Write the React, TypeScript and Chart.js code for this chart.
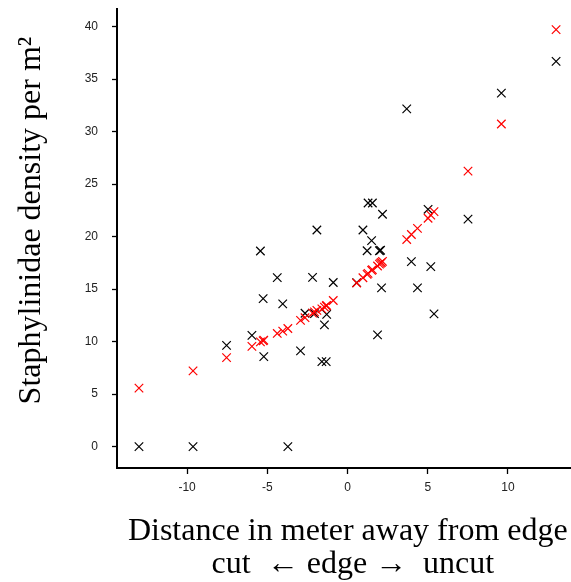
import React, { useEffect, useRef } from "react";
import { Chart, registerables } from "chart.js";

Chart.register(...registerables);

// Distance from the edge (m): negative = cut side, positive = uncut side
const distances = [
  -13.0, -9.63, -7.54, -5.96, -5.43, -5.26, -5.22, -4.38, -4.04, -3.72,
  -2.93, -2.65, -2.18, -2.06, -1.91, -1.6, -1.44, -1.33, -1.3, -0.89,
  0.57, 0.96, 1.22, 1.28, 1.5, 1.55, 1.87, 1.99, 2.06, 2.12,
  2.18, 3.69, 3.98, 4.36, 5.02, 5.19, 5.39, 7.51, 9.59, 13.0,
];

// Observed Staphylinidae density (black crosses)
const observedDensity = [
  0, 0, 9.64, 10.6, 18.63, 14.1, 8.57, 16.1, 13.6, 0,
  9.12, 12.7, 16.12, 12.66, 20.63, 8.1, 11.6, 8.1, 12.6, 15.63,
  15.62, 20.63, 18.65, 23.2, 19.62, 23.2, 10.64, 18.65, 18.7, 15.12,
  22.13, 32.16, 17.62, 15.12, 22.6, 17.14, 12.64, 21.66, 33.66, 36.68,
];

// Fitted density (red crosses)
const fittedDensity = [
  5.58, 7.22, 8.48, 9.55, 9.98, 10.08, 10.14, 10.78, 11.0, 11.25,
  12.02, 12.28, 12.72, 12.84, 12.98, 13.12, 13.28, 13.4, 13.44, 13.92,
  15.58, 16.08, 16.4, 16.5, 16.78, 16.85, 17.2, 17.38, 17.48, 17.55,
  17.64, 19.72, 20.2, 20.78, 21.75, 22.05, 22.38, 26.23, 30.72, 39.7,
];

const xTickValues = [-10, -5, 0, 5, 10];
const yTickValues = [0, 5, 10, 15, 20, 25, 30, 35, 40];

const X_MIN = -14.37;
const X_MAX = 13.93;
const Y_MIN = -2.03;
const Y_MAX = 41.67;

const X_TITLE = ["Distance in meter away from edge", "cut  \u2190 edge \u2192  uncut"];
const Y_TITLE = "Staphylinidae density per m\u00B2";

const TITLE_FONT = '32px "Liberation Serif", "Times New Roman", Times, serif';
const TICK_FONT = { family: '"Liberation Sans", Arial, Helvetica, sans-serif', size: 12 };

const titlePlugin = {
  id: "axisTitles",
  afterDraw(chart: any) {
    const { ctx, chartArea } = chart;
    ctx.save();
    ctx.fillStyle = "#000";
    ctx.font = TITLE_FONT;
    ctx.textAlign = "center";
    ctx.textBaseline = "alphabetic";
    ctx.fillText(X_TITLE[0], chartArea.left + 230.8, chartArea.bottom + 72);
    ctx.fillText(X_TITLE[1], chartArea.left + 235.9, chartArea.bottom + 105);
    ctx.translate(chartArea.left - 77, chartArea.top + 211.5);
    ctx.rotate(-Math.PI / 2);
    ctx.fillText(Y_TITLE, 0, 0);
    ctx.restore();
  },
};

export default function App() {
  const canvasRef = useRef<HTMLCanvasElement | null>(null);

  useEffect(() => {
    if (!canvasRef.current) return;
    const fittedPoints = distances.map((x, i) => ({ x, y: fittedDensity[i] }));
    const observedPoints = distances.map((x, i) => ({ x, y: observedDensity[i] }));

    const axisCommon = {
      type: "linear" as const,
      grid: {
        display: true,
        drawOnChartArea: false,
        drawTicks: true,
        tickColor: "#000",
        tickWidth: 1.3,
      },
      border: { display: true, color: "#000", width: 2 },
    };

    const chart = new Chart(canvasRef.current, {
      type: "scatter",
      data: {
        datasets: [
          {
            label: "Fitted",
            data: fittedPoints,
            pointStyle: "crossRot",
            pointRadius: 6,
            pointHoverRadius: 6,
            borderColor: "#ff0000",
            backgroundColor: "#ff0000",
            borderWidth: 1.2,
          },
          {
            label: "Observed",
            data: observedPoints,
            pointStyle: "crossRot",
            pointRadius: 6,
            pointHoverRadius: 6,
            borderColor: "#000000",
            backgroundColor: "#000000",
            borderWidth: 1.2,
          },
        ],
      },
      options: {
        animation: false,
        responsive: false,
        layout: { autoPadding: false, padding: { top: 9, left: 0, right: 0, bottom: 0 } },
        plugins: {
          legend: { display: false },
          tooltip: { enabled: false },
        },
        scales: {
          x: {
            ...axisCommon,
            min: X_MIN,
            max: X_MAX,
            grid: { ...axisCommon.grid, tickLength: 6 },
            afterBuildTicks: (s: any) => {
              s.ticks = xTickValues.map((v) => ({ value: v }));
            },
            afterFit: (s: any) => {
              s.height = 114;
              s.paddingLeft = 0;
              s.paddingRight = 0;
            },
            ticks: {
              font: TICK_FONT,
              color: "#222",
              padding: 6,
              maxRotation: 0,
              autoSkip: false,
              callback: (v: any) => String(v),
            },
          },
          y: {
            ...axisCommon,
            min: Y_MIN,
            max: Y_MAX,
            grid: { ...axisCommon.grid, tickLength: 5 },
            afterBuildTicks: (s: any) => {
              s.ticks = yTickValues.map((v) => ({ value: v }));
            },
            afterFit: (s: any) => {
              s.width = 117;
              s.paddingTop = 0;
              s.paddingBottom = 0;
            },
            ticks: {
              font: TICK_FONT,
              color: "#222",
              padding: 14,
              autoSkip: false,
              callback: (v: any) => String(v),
            },
          },
        },
      },
      plugins: [titlePlugin],
    });

    return () => {
      chart.destroy();
    };
  }, []);

  return (
    <div
      style={{
        position: "fixed",
        left: 0,
        top: 0,
        width: 571,
        height: 582,
        background: "#fff",
      }}
    >
      <canvas ref={canvasRef} width={571} height={582} style={{ display: "block" }} />
    </div>
  );
}
